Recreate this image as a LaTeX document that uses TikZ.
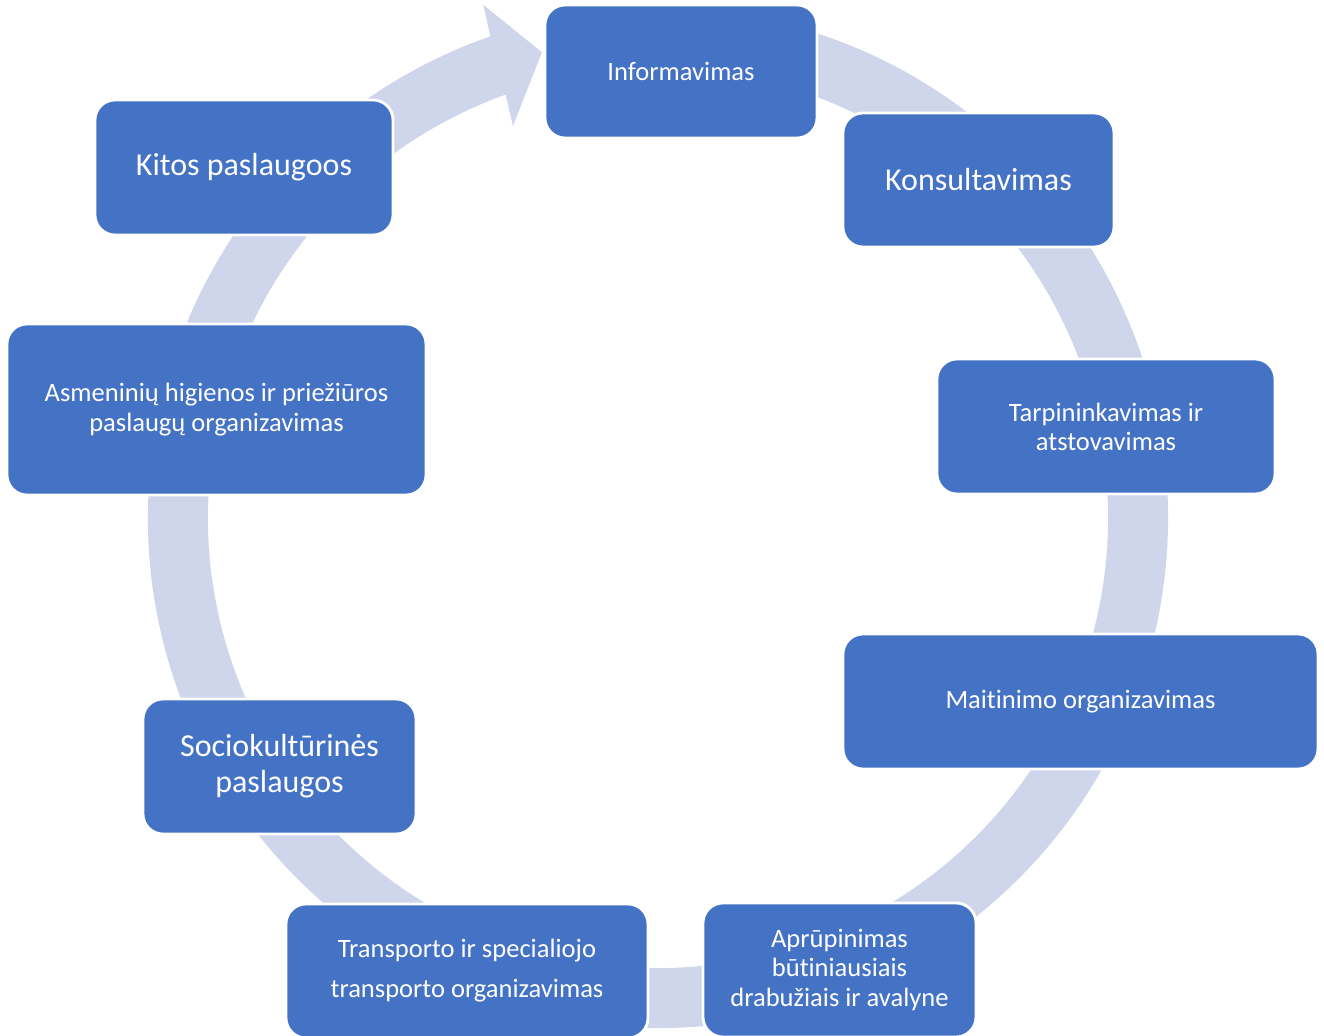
\documentclass[tikz,border=0pt]{standalone}
\usepackage{fontspec}
\setmainfont{Carlito}[Ligatures={NoCommon,NoContextual}]
\definecolor{melyna}{HTML}{4472C4}
\definecolor{zieda}{HTML}{CFD5EA}
\newcommand{\smulkus}{\fontsize{7.55}{8.3}\selectfont}
\newcommand{\stambus}{\fontsize{9.1}{10.2}\selectfont}
\begin{document}
\begin{tikzpicture}[
  blokas/.style={draw=white, line width=0.8pt, fill=melyna, rounded corners=0.2cm,
    text=white, align=center, inner sep=0pt, font=\smulkus}
]
\useasboundingbox (0,0) rectangle (13.24,10.36);
% Ziedas su rodykle
\begin{scope}[shift={(6.58,5.18)}]
\fill[zieda] (80:5.10) arc[start angle=80, end angle=-250.8, radius=5.10]
  -- (-251.2:5.42) -- (-256:4.80) -- (-249.7:4.18) -- (-250.2:4.50)
  arc[start angle=-250.2, end angle=80, radius=4.50] -- cycle;
\end{scope}
% Paslaugos
\node[blokas, minimum width=2.72cm, minimum height=1.33cm] (info) at (6.81,9.645) {Informavimas};
\node[blokas, minimum width=2.71cm, minimum height=1.34cm, font=\stambus] (kons) at (9.785,8.56) {Konsultavimas};
\node[blokas, minimum width=3.38cm, minimum height=1.35cm] (tarp) at (11.06,6.095) {Tarpininkavimas ir\\atstovavimas};
\node[blokas, minimum width=4.75cm, minimum height=1.35cm] (mait) at (10.805,3.345) {Maitinimo organizavimas};
\node[blokas, minimum width=2.73cm, minimum height=1.34cm] (aprup) at (8.395,0.66) {Aprūpinimas\\būtiniausiais\\drabužiais ir avalyne};
\node[blokas, minimum width=3.62cm, minimum height=1.34cm, font=\fontsize{7.55}{11.4}\selectfont] (transp) at (4.67,0.65) {Transporto ir specialiojo\\transporto organizavimas};
\node[blokas, minimum width=2.73cm, minimum height=1.35cm, font=\stambus] (socio) at (2.795,2.695) {Sociokultūrinės\\paslaugos};
\node[blokas, minimum width=4.19cm, minimum height=1.71cm] (asmen) at (2.165,6.265) {Asmeninių higienos ir priežiūros\\paslaugų organizavimas};
\node[blokas, minimum width=2.98cm, minimum height=1.35cm, font=\stambus] (kitos) at (2.44,8.685) {Kitos paslaugoos};
\end{tikzpicture}
\end{document}
